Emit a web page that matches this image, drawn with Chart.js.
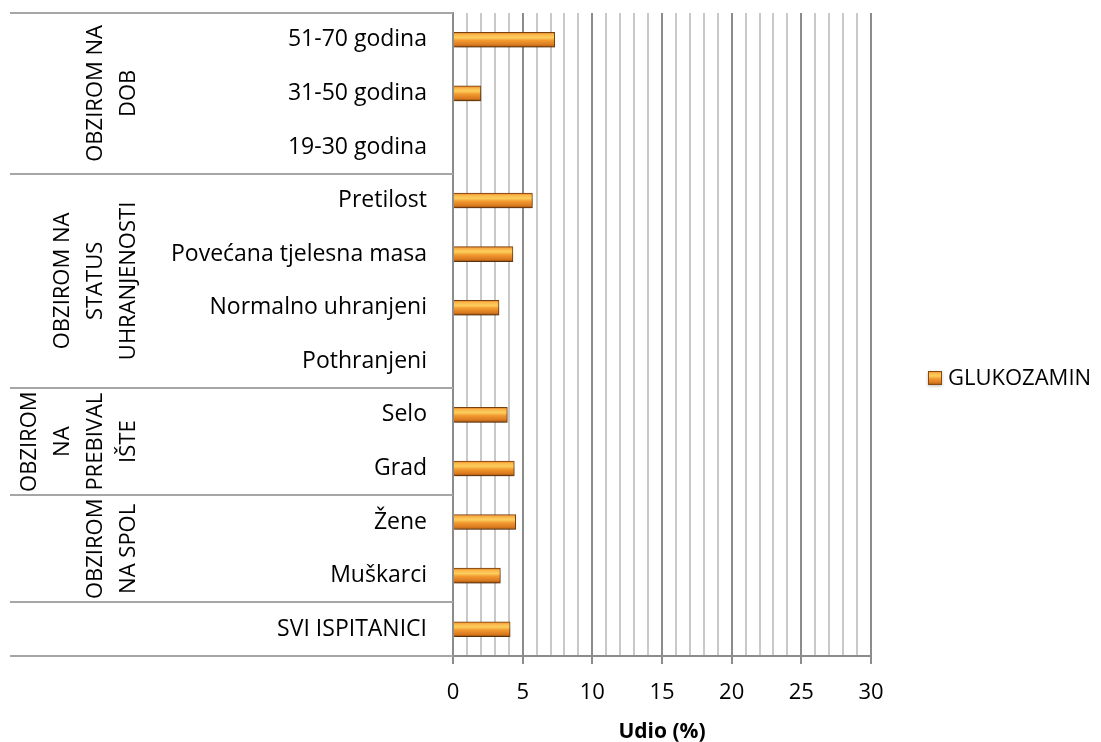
<!DOCTYPE html>
<html>
<head>
<meta charset="utf-8">
<script src="https://cdn.jsdelivr.net/npm/chart.js@4"></script>
<style>
html,body{margin:0;padding:0;background:#fff;}
#wrap{width:1101px;height:742px;}
</style>
</head>
<body>
<div id="wrap"><canvas id="c" width="1101" height="742"></canvas></div>
<script>
const categories=['51-70 godina','31-50 godina','19-30 godina','Pretilost','Povećana tjelesna masa','Normalno uhranjeni','Pothranjeni','Selo','Grad','Žene','Muškarci','SVI ISPITANICI'];
const glukozamin=[7.3,2.0,0,5.7,4.3,3.3,0,3.9,4.4,4.5,3.4,4.1];
const groupLabels=[['OBZIROM NA','DOB'],['OBZIROM NA','STATUS','UHRANJENOSTI'],['OBZIROM','NA','PREBIVAL','IŠTE'],['OBZIROM','NA SPOL'],[]];
const groupSizes=[3,4,2,2,1];
const seriesName='GLUKOZAMIN';
const xMin=0,xMax=30,majorStep=5;

const FONT='"Open Sans", Lato, sans-serif';
const FS=22;

function barGrad(ctx,top,h){
  const g=ctx.createLinearGradient(0,top,0,top+h);
  g.addColorStop(0,'#e07a1c');
  g.addColorStop(0.15,'#fbb64a');
  g.addColorStop(0.35,'#fccf5e');
  g.addColorStop(0.55,'#f29a30');
  g.addColorStop(0.85,'#d9781f');
  g.addColorStop(1,'#8a4a10');
  return g;
}

// shadow under bars
const shadowPlugin={
  id:'shadow',
  beforeDatasetsDraw(chart){
    const ctx=chart.ctx;
    ctx.save();
    ctx.shadowColor='rgba(0,0,0,0.3)';
    ctx.shadowBlur=6;
    ctx.shadowOffsetY=4;
  },
  afterDatasetsDraw(chart){chart.ctx.restore();}
};

// group labels + separators on the left, legend on the right
const groupPlugin={
  id:'groups',
  afterDraw(chart){
    const ctx=chart.ctx, ys=chart.scales.y, a=chart.chartArea;
    const step=ys.getPixelForValue(1)-ys.getPixelForValue(0);
    ctx.save();
    ctx.strokeStyle='#a6a6a6';
    ctx.lineWidth=2;
    let idx=0;
    const bounds=[a.top];
    groupSizes.forEach(n=>{idx+=n;bounds.push(ys.getPixelForValue(idx-1)+step/2);});
    bounds.forEach(y=>{
      ctx.beginPath();ctx.moveTo(10,Math.round(y));ctx.lineTo(a.left,Math.round(y));ctx.stroke();
    });
    ctx.fillStyle='#000';
    ctx.font=FS+'px '+FONT;
    ctx.textAlign='center';
    ctx.textBaseline='middle';
    groupLabels.forEach((lines,gi)=>{
      const yc=(bounds[gi]+bounds[gi+1])/2;
      lines.forEach((t,k)=>{
        const x=129-33*(lines.length-1-k);
        ctx.save();
        ctx.translate(x,yc);
        ctx.rotate(-Math.PI/2);
        ctx.fillText(t,0,0);
        ctx.restore();
      });
    });
    // legend
    ctx.shadowColor='rgba(0,0,0,0.25)';ctx.shadowBlur=3;ctx.shadowOffsetY=1;
    ctx.fillStyle=barGrad(ctx,371,14);
    ctx.fillRect(928,371,14,14);
    ctx.shadowColor='transparent';
    ctx.strokeStyle='#8a4a10';ctx.lineWidth=1;
    ctx.strokeRect(928.5,371.5,13,13);
    ctx.fillStyle='#000';
    ctx.textAlign='left';
    ctx.fillText(seriesName,948,379);
    ctx.restore();
  }
};

new Chart(document.getElementById('c'),{
  type:'bar',
  data:{
    labels:categories,
    datasets:[{
      label:seriesName,
      data:glukozamin,
      barThickness:15,
      borderWidth:1,
      borderColor:'#7a4210',
      backgroundColor(c){
        const s=c.chart.scales.y;
        if(!s||c.dataIndex===undefined) return '#f0a030';
        const yc=s.getPixelForValue(c.dataIndex);
        if(!isFinite(yc)) return '#f0a030';
        return barGrad(c.chart.ctx,yc-7.5,15);
      }
    }]
  },
  options:{
    indexAxis:'y',
    responsive:false,
    animation:false,
    layout:{padding:{top:13,right:230,left:0,bottom:0}},
    plugins:{legend:{display:false},tooltip:{enabled:false}},
    scales:{
      x:{
        min:xMin,max:xMax,
        afterFit(s){s.height=86;},
        ticks:{stepSize:1,autoSkip:false,maxRotation:0,padding:16,color:'#000',
          font:{family:FONT,size:FS},
          callback(v){return v%majorStep===0?String(v):'';}},
        grid:{
          lineWidth:2,
          tickLength:8,
          color(c){return c.tick&&c.tick.value%majorStep===0?'#8c8c8c':'#c9c9c9';},
          tickColor(c){return c.tick&&c.tick.value%majorStep===0?'#8c8c8c':'rgba(0,0,0,0)';}
        },
        border:{display:true,color:'#8c8c8c',width:2},
        title:{display:true,text:'Udio (%)',color:'#000',font:{family:FONT,size:21,weight:'bold'},padding:{top:0,bottom:-3}}
      },
      y:{
        afterFit(s){s.width=453;s.paddingTop=0;s.paddingBottom=0;},
        ticks:{padding:26,color:'#000',autoSkip:false,font:{family:FONT,size:23}},
        grid:{display:false,drawTicks:false},
        border:{display:true,color:'#8c8c8c',width:2}
      }
    }
  },
  plugins:[shadowPlugin,groupPlugin]
});
</script>
</body>
</html>
